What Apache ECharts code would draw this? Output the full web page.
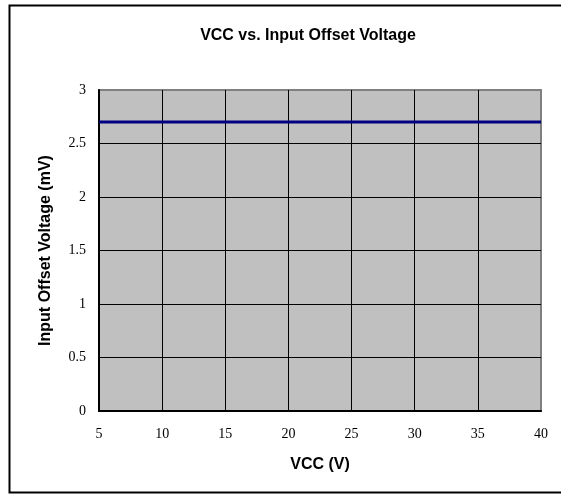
<!DOCTYPE html>
<html>
<head>
<meta charset="utf-8">
<title>VCC vs. Input Offset Voltage</title>
<style>
  html, body { margin: 0; padding: 0; background: #fff; }
  #chart { width: 561px; height: 494px; }
</style>
</head>
<body>
<div id="chart"></div>
<script src="https://cdn.jsdelivr.net/npm/echarts@6/dist/echarts.min.js"></script>
<script>
// data
var vcc = [5, 10, 15, 20, 25, 30, 35, 40];
var offsetVoltage = [2.7, 2.7, 2.7, 2.7, 2.7, 2.7, 2.7, 2.7];
var yTicks = [0, 0.5, 1, 1.5, 2, 2.5, 3];

var points = [];
for (var i = 0; i < vcc.length; i++) {
    points.push([vcc[i], offsetVoltage[i]]);
}

var chart = echarts.init(document.getElementById('chart'));
chart.setOption({
    animation: false,
    backgroundColor: '#fff',
    graphic: [{
        type: 'rect',
        shape: { x: 9.5, y: 5.5, width: 600, height: 487 },
        style: { fill: 'none', stroke: '#000', lineWidth: 2 },
        silent: true
    }],
    title: {
        text: 'VCC vs. Input Offset Voltage',
        left: 303,
        top: 23,
        textAlign: 'center',
        textStyle: {
            fontFamily: 'Liberation Sans',
            fontSize: 16,
            fontWeight: 'bold',
            color: '#000'
        }
    },
    grid: {
        left: 99,
        right: 20,
        top: 90,
        bottom: 83,
        show: true,
        backgroundColor: '#c0c0c0',
        borderColor: '#808080',
        borderWidth: 2
    },
    xAxis: {
        type: 'value',
        min: 5,
        max: 40,
        interval: 5,
        name: 'VCC (V)',
        nameLocation: 'middle',
        nameGap: 46,
        nameTextStyle: {
            fontFamily: 'Liberation Sans',
            fontSize: 16,
            fontWeight: 'bold',
            color: '#000'
        },
        axisLine: { show: true, lineStyle: { color: '#000', width: 2 } },
        axisTick: { show: false },
        axisLabel: {
            margin: 16,
            fontFamily: 'Liberation Serif',
            fontSize: 14,
            color: '#000'
        },
        splitLine: { show: true, showMaxLine: false, lineStyle: { color: '#000', width: 1 } }
    },
    yAxis: {
        type: 'value',
        min: yTicks[0],
        max: yTicks[yTicks.length - 1],
        interval: 0.5,
        name: 'Input Offset Voltage (mV)',
        nameLocation: 'middle',
        nameGap: 45,
        nameTextStyle: {
            fontFamily: 'Liberation Sans',
            fontSize: 16,
            fontWeight: 'bold',
            color: '#000'
        },
        axisLine: { show: true, lineStyle: { color: '#000', width: 2 } },
        axisTick: { show: false },
        axisLabel: {
            margin: 13,
            fontFamily: 'Liberation Serif',
            fontSize: 14,
            color: '#000'
        },
        splitLine: { show: true, showMaxLine: false, lineStyle: { color: '#000', width: 1 } }
    },
    series: [{
        type: 'line',
        data: points,
        symbol: 'none',
        lineStyle: { color: '#000080', width: 3 },
        silent: true
    }]
});
</script>
</body>
</html>
